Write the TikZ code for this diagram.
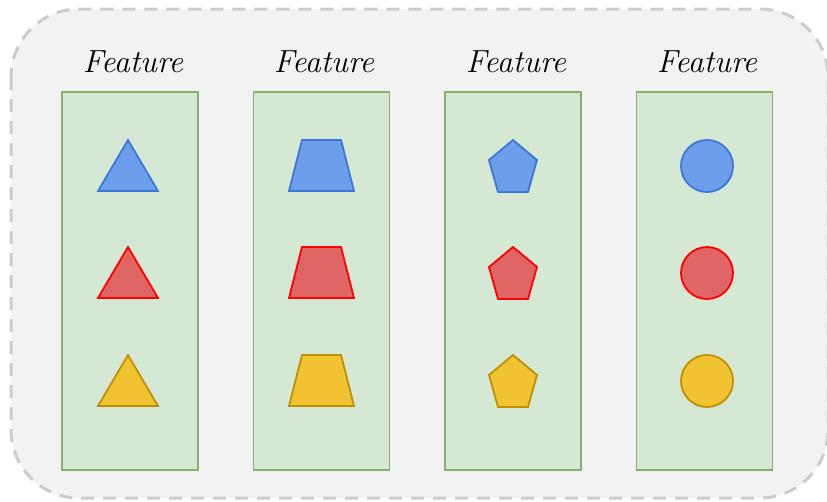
\documentclass[tikz,border=0pt]{standalone}
\usepackage{tikz}
\definecolor{panelbg}{HTML}{F2F2F2}
\definecolor{panelline}{HTML}{CCCCCC}
\definecolor{boxfill}{HTML}{D5E8D4}
\definecolor{boxline}{HTML}{82B366}
\definecolor{bluefill}{HTML}{6D9EEB}
\definecolor{blueline}{HTML}{3C78D8}
\definecolor{redfill}{HTML}{E06666}
\definecolor{redline}{HTML}{FF0000}
\definecolor{yellowfill}{HTML}{F1C232}
\definecolor{yellowline}{HTML}{BF9000}
\tikzset{
  panel/.style={draw=panelline, fill=panelbg, line width=3pt, dash pattern=on 13pt off 9pt, rounded corners=68pt},
  column/.style={draw=boxline, fill=boxfill, line width=1.5pt, minimum width=136pt, minimum height=378pt, inner sep=0pt},
  heading/.style={font=\fontsize{32}{36}\selectfont\itshape, anchor=base, inner sep=0pt},
  shapebase/.style={line width=1.8pt, line join=miter},
  blueshape/.style={shapebase, draw=blueline, fill=bluefill},
  redshape/.style={shapebase, draw=redline, fill=redfill},
  yellowshape/.style={shapebase, draw=yellowline, fill=yellowfill},
}
\begin{document}
\begin{tikzpicture}[x=1pt, y=-1pt]
  \useasboundingbox (0,0) rectangle (827,501);
  % dashed rounded panel
  \draw[panel] (11,9) rectangle (828,498);
  % four feature columns
  \node[column] (col1) at (130,281) {};
  \node[column] (col2) at (321.5,281) {};
  \node[column] (col3) at (513,281) {};
  \node[column] (col4) at (704.5,281) {};
  % headings
  \node[heading] (h1) at (133,72) {Feature};
  \node[heading] (h2) at (324,72) {Feature};
  \node[heading] (h3) at (516,72) {Feature};
  \node[heading] (h4) at (707,72) {Feature};
  % shapes, one row per colour
  \foreach \y/\c in {166/blueshape, 273/redshape, 381/yellowshape} {
    % triangles
    \draw[\c, shift={(128,\y)}] (0,-26) -- (30,25) -- (-30,25) -- cycle;
    % trapezoids
    \draw[\c, shift={(321.5,\y)}] (-19.5,-26) -- (19.5,-26) -- (32.5,25) -- (-32.5,25) -- cycle;
    % pentagons
    \draw[\c, shift={(513,\y)}] (0,-26) -- (24,-6) -- (15,26) -- (-15,26) -- (-24,-6) -- cycle;
    % circles
    \draw[\c] (707,\y) circle[radius=26];
  }
\end{tikzpicture}
\end{document}
